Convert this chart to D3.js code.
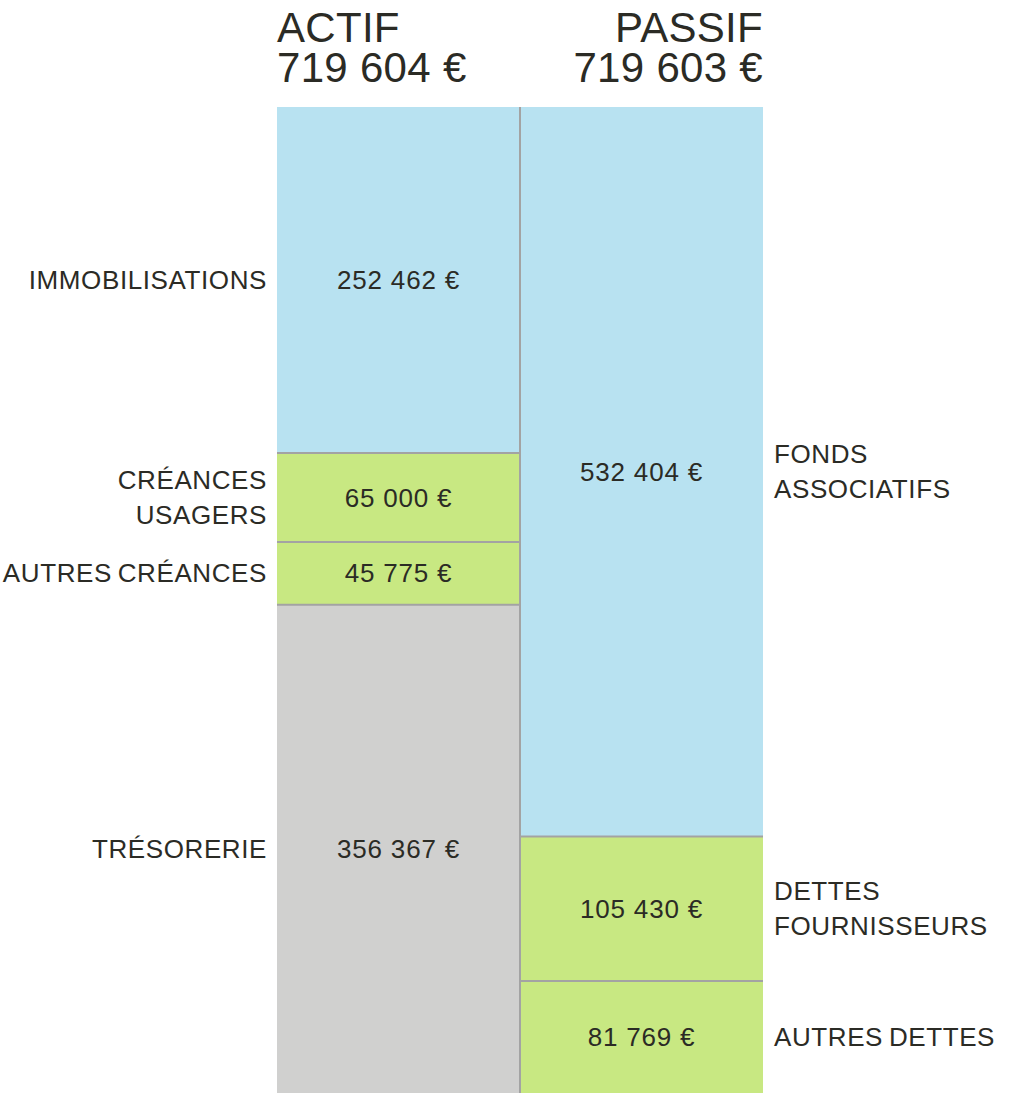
<!DOCTYPE html>
<html lang="fr">
<head>
    <meta charset="UTF-8">
    <title>Bilan</title>
    <script src="https://d3js.org/d3.v7.min.js"></script>
    <style>
        body { margin: 0; background: #fff; }
        svg text { font-family: "Liberation Sans", Arial, sans-serif; fill: #2b2b25; }
    </style>
</head>
<body>
    <svg id="chart"></svg>

    <script>
        // Data
        const columns = ["ACTIF", "PASSIF"];
        const totals = [719604, 719603];

        const actifLabels = [["IMMOBILISATIONS"], ["CRÉANCES", "USAGERS"], ["AUTRES CRÉANCES"], ["TRÉSORERIE"]];
        const actifValues = [252462, 65000, 45775, 356367];
        const actifKinds = ["fixed", "debt", "debt", "cash"];

        const passifLabels = [["FONDS", "ASSOCIATIFS"], ["DETTES", "FOURNISSEURS"], ["AUTRES DETTES"]];
        const passifValues = [532404, 105430, 81769];
        const passifKinds = ["fixed", "debt", "debt"];

        const width = 1018, height = 1097;
        const barTop = 107, barBottom = 1093;

        const svg = d3.select("#chart").attr("width", width).attr("height", height);

        const x = d3.scaleBand().domain(columns).range([277, 763]).padding(0);
        const y = d3.scaleLinear().domain([0, d3.max(totals)]).range([barTop, barBottom]);
        const color = d3.scaleOrdinal()
            .domain(["fixed", "debt", "cash"])
            .range(["#b8e2f1", "#c8e882", "#d0d0cf"]);

        const fmt = v => d3.format(",")(v).replace(/,/g, " ") + " €";

        // build stacked segments
        function segments(col, labels, values, kinds) {
            let acc = 0;
            return values.map((v, i) => {
                const s = { col, label: labels[i], value: v, kind: kinds[i], y0: acc, y1: acc + v, side: col === "ACTIF" ? "left" : "right" };
                acc += v;
                return s;
            });
        }
        const data = segments("ACTIF", actifLabels, actifValues, actifKinds)
            .concat(segments("PASSIF", passifLabels, passifValues, passifKinds));

        // bars
        svg.selectAll(".seg")
            .data(data)
            .enter()
            .append("rect")
            .attr("class", "seg")
            .attr("x", d => x(d.col))
            .attr("y", d => y(d.y0))
            .attr("width", x.bandwidth())
            .attr("height", d => y(d.y1) - y(d.y0))
            .attr("fill", d => color(d.kind));

        // separators between segments
        svg.selectAll(".sep")
            .data(data.filter(d => d.y0 > 0))
            .enter()
            .append("line")
            .attr("x1", d => x(d.col))
            .attr("x2", d => x(d.col) + x.bandwidth())
            .attr("y1", d => y(d.y0))
            .attr("y2", d => y(d.y0))
            .attr("stroke", "#a3a3a3")
            .attr("stroke-width", 2);

        svg.append("line")
            .attr("x1", x("PASSIF"))
            .attr("x2", x("PASSIF"))
            .attr("y1", barTop)
            .attr("y2", barBottom)
            .attr("stroke", "#a3a3a3")
            .attr("stroke-width", 2);

        // values inside
        svg.selectAll(".val")
            .data(data)
            .enter()
            .append("text")
            .attr("x", d => x(d.col) + x.bandwidth() / 2)
            .attr("y", d => (y(d.y0) + y(d.y1)) / 2)
            .attr("dy", "0.35em")
            .attr("text-anchor", "middle")
            .attr("font-size", "26px")
            .attr("letter-spacing", "0.8px")
            .text(d => fmt(d.value));

        // category labels
        const lineH = 35;
        const labels = svg.selectAll(".lab")
            .data(data)
            .enter()
            .append("text")
            .attr("text-anchor", d => d.side === "left" ? "end" : "start")
            .attr("font-size", "26px")
            .attr("letter-spacing", "0.6px")
            .attr("word-spacing", "-2px")
            .attr("transform", d => {
                const cx = d.side === "left" ? x(d.col) - 10 : x(d.col) + x.bandwidth() + 11;
                const cy = (y(d.y0) + y(d.y1)) / 2 - (d.label.length - 1) * lineH / 2;
                return `translate(${cx},${cy})`;
            });
        labels.selectAll("tspan")
            .data(d => d.label)
            .enter()
            .append("tspan")
            .attr("x", 0)
            .attr("y", (d, i) => i * lineH)
            .attr("dy", "0.35em")
            .text(d => d);

        // headers
        const header = svg.selectAll(".head")
            .data(columns)
            .enter()
            .append("text")
            .attr("font-size", "42px")
            .attr("letter-spacing", "0.3px")
            .attr("text-anchor", (d, i) => i === 0 ? "start" : "end")
            .attr("transform", (d, i) => `translate(${i === 0 ? x(d) : x(d) + x.bandwidth()},0)`);
        header.append("tspan").attr("x", 0).attr("y", 42).text(d => d);
        header.append("tspan").attr("x", 0).attr("y", 82).text((d, i) => fmt(totals[i]));
    </script>
</body>
</html>
